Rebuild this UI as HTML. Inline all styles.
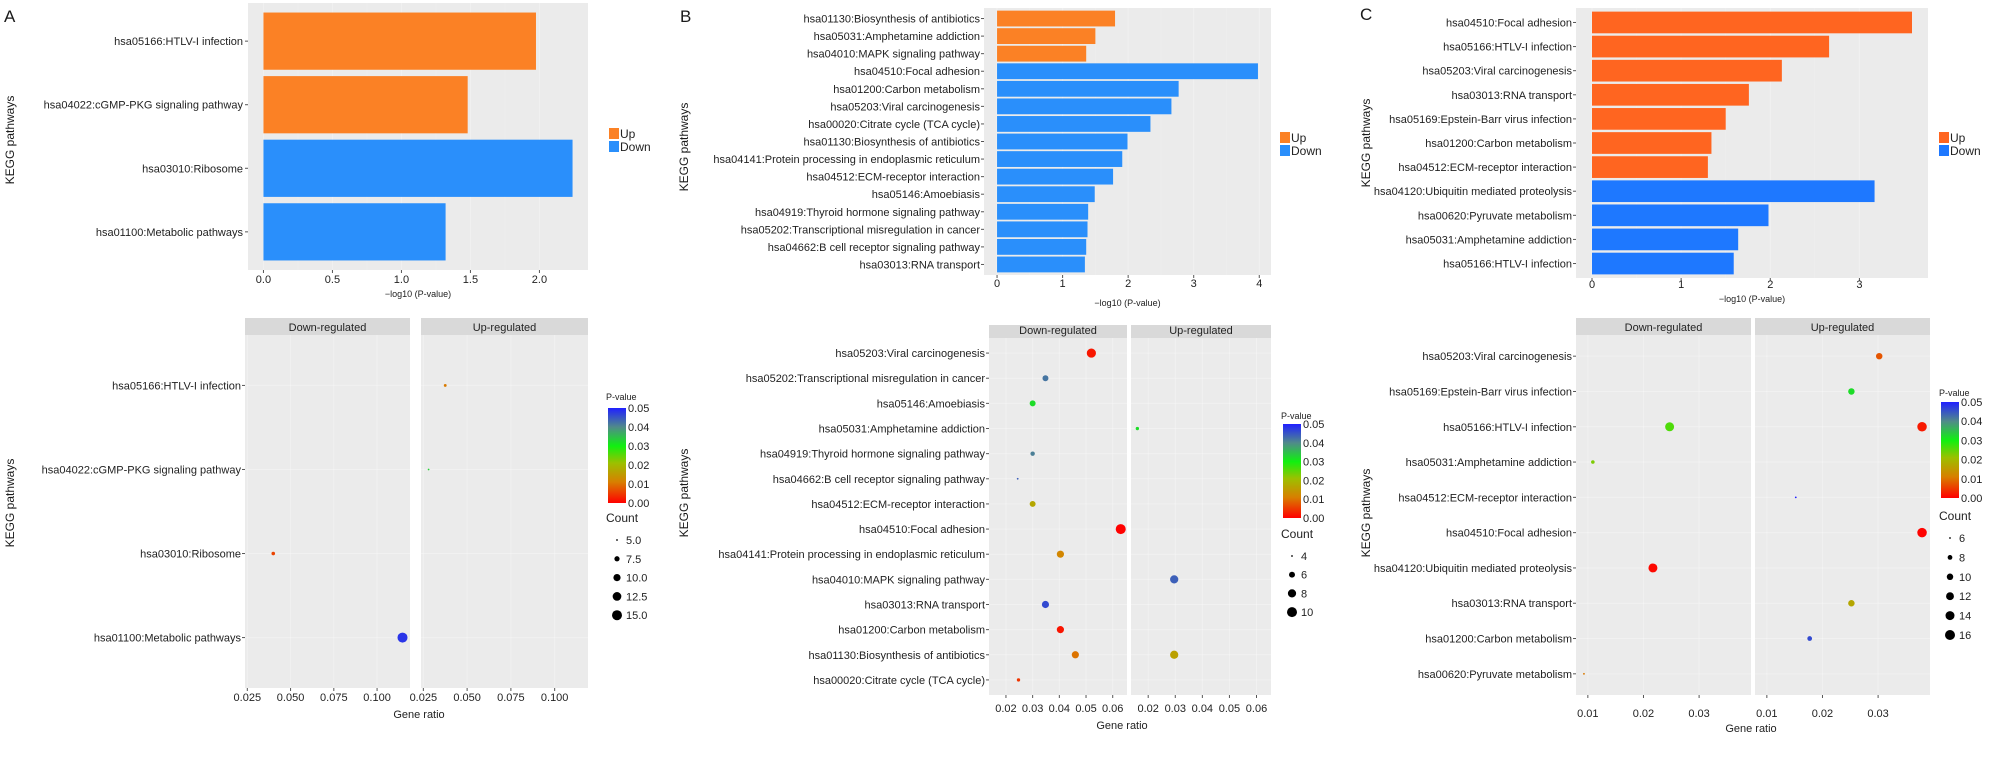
<!DOCTYPE html>
<html><head><meta charset="utf-8"><title>KEGG enrichment</title>
<style>
html,body{margin:0;padding:0;background:#fff;}
svg{display:block;font-family:"Liberation Sans",Arial,sans-serif;}
</style></head>
<body>
<svg id="fig" width="2008" height="764" viewBox="0 0 2008 764" xmlns="http://www.w3.org/2000/svg">
<defs>
<linearGradient id="pgrad" x1="0" y1="1" x2="0" y2="0">
<stop offset="0" stop-color="#ff0000"/><stop offset="0.22" stop-color="#d87f00"/><stop offset="0.42" stop-color="#9cc000"/><stop offset="0.6" stop-color="#10f010"/><stop offset="0.8" stop-color="#508a8a"/><stop offset="1" stop-color="#2020ff"/>
</linearGradient>
</defs>
</svg>
<script>
// ---------- Panel A data ----------
const aBarLabels=['hsa05166:HTLV-I infection','hsa04022:cGMP-PKG signaling pathway','hsa03010:Ribosome','hsa01100:Metabolic pathways'];
const aBarValues=[1.975,1.48,2.24,1.32];
const aBarGroups=['Up','Up','Down','Down'];
const aBarTicks=[0,0.5,1,1.5,2];
const aBarTickLabels=['0.0','0.5','1.0','1.5','2.0'];
const aDotRows=['hsa05166:HTLV-I infection','hsa04022:cGMP-PKG signaling pathway','hsa03010:Ribosome','hsa01100:Metabolic pathways'];
const aDotPath=['hsa05166:HTLV-I infection','hsa04022:cGMP-PKG signaling pathway','hsa03010:Ribosome','hsa01100:Metabolic pathways'];
const aDotFacet=['Up','Up','Down','Down'];
const aDotRatio=[0.0375,0.028,0.040,0.1147];
const aDotP=[0.0106,0.033,0.0058,0.048];
const aDotCount=[5.5,5,6,15];
const aDotTicks=[0.025,0.05,0.075,0.1];
const aDotTickLabels=['0.025','0.050','0.075','0.100'];
const aPTicks=[0,0.01,0.02,0.03,0.04,0.05];
const aCountLegend=[5,7.5,10,12.5,15];
const aCountLabels=['5.0','7.5','10.0','12.5','15.0'];

// ---------- Panel B data ----------
const bBarLabels=['hsa01130:Biosynthesis of antibiotics','hsa05031:Amphetamine addiction','hsa04010:MAPK signaling pathway','hsa04510:Focal adhesion','hsa01200:Carbon metabolism','hsa05203:Viral carcinogenesis','hsa00020:Citrate cycle (TCA cycle)','hsa01130:Biosynthesis of antibiotics','hsa04141:Protein processing in endoplasmic reticulum','hsa04512:ECM-receptor interaction','hsa05146:Amoebiasis','hsa04919:Thyroid hormone signaling pathway','hsa05202:Transcriptional misregulation in cancer','hsa04662:B cell receptor signaling pathway','hsa03013:RNA transport'];
const bBarValues=[1.80,1.50,1.36,3.98,2.77,2.66,2.34,1.99,1.91,1.77,1.49,1.39,1.38,1.36,1.34];
const bBarGroups=['Up','Up','Up','Down','Down','Down','Down','Down','Down','Down','Down','Down','Down','Down','Down'];
const bBarTicks=[0,1,2,3,4];
const bBarTickLabels=['0','1','2','3','4'];
const bDotRows=['hsa05203:Viral carcinogenesis','hsa05202:Transcriptional misregulation in cancer','hsa05146:Amoebiasis','hsa05031:Amphetamine addiction','hsa04919:Thyroid hormone signaling pathway','hsa04662:B cell receptor signaling pathway','hsa04512:ECM-receptor interaction','hsa04510:Focal adhesion','hsa04141:Protein processing in endoplasmic reticulum','hsa04010:MAPK signaling pathway','hsa03013:RNA transport','hsa01200:Carbon metabolism','hsa01130:Biosynthesis of antibiotics','hsa00020:Citrate cycle (TCA cycle)'];
const bDotPath=['hsa05203:Viral carcinogenesis','hsa05202:Transcriptional misregulation in cancer','hsa05146:Amoebiasis','hsa05031:Amphetamine addiction','hsa04919:Thyroid hormone signaling pathway','hsa04662:B cell receptor signaling pathway','hsa04512:ECM-receptor interaction','hsa04510:Focal adhesion','hsa04141:Protein processing in endoplasmic reticulum','hsa04010:MAPK signaling pathway','hsa03013:RNA transport','hsa01200:Carbon metabolism','hsa01130:Biosynthesis of antibiotics','hsa01130:Biosynthesis of antibiotics','hsa00020:Citrate cycle (TCA cycle)'];
const bDotFacet=['Down','Down','Down','Up','Down','Down','Down','Down','Down','Up','Down','Down','Down','Up','Down'];
const bDotRatio=[0.052,0.0348,0.030,0.016,0.030,0.0244,0.030,0.063,0.0404,0.0296,0.0348,0.0404,0.046,0.0296,0.0247];
const bDotP=[0.002,0.042,0.032,0.032,0.041,0.044,0.017,0.0001,0.012,0.044,0.046,0.0017,0.010,0.016,0.0046];
const bDotCount=[9,6,6,4.5,5,4,6,10,7,8,7,7,7,8,4.5];
const bDotTicks=[0.02,0.03,0.04,0.05,0.06];
const bDotTickLabels=['0.02','0.03','0.04','0.05','0.06'];
const bPTicks=[0,0.01,0.02,0.03,0.04,0.05];
const bCountLegend=[4,6,8,10];
const bCountLabels=['4','6','8','10'];

// ---------- Panel C data ----------
const cBarLabels=['hsa04510:Focal adhesion','hsa05166:HTLV-I infection','hsa05203:Viral carcinogenesis','hsa03013:RNA transport','hsa05169:Epstein-Barr virus infection','hsa01200:Carbon metabolism','hsa04512:ECM-receptor interaction','hsa04120:Ubiquitin mediated proteolysis','hsa00620:Pyruvate metabolism','hsa05031:Amphetamine addiction','hsa05166:HTLV-I infection'];
const cBarValues=[3.59,2.66,2.13,1.76,1.50,1.34,1.30,3.17,1.98,1.64,1.59];
const cBarGroups=['Up','Up','Up','Up','Up','Up','Up','Down','Down','Down','Down'];
const cBarTicks=[0,1,2,3];
const cBarTickLabels=['0','1','2','3'];
const cDotRows=['hsa05203:Viral carcinogenesis','hsa05169:Epstein-Barr virus infection','hsa05166:HTLV-I infection','hsa05031:Amphetamine addiction','hsa04512:ECM-receptor interaction','hsa04510:Focal adhesion','hsa04120:Ubiquitin mediated proteolysis','hsa03013:RNA transport','hsa01200:Carbon metabolism','hsa00620:Pyruvate metabolism'];
const cDotPath=['hsa05203:Viral carcinogenesis','hsa05169:Epstein-Barr virus infection','hsa05166:HTLV-I infection','hsa05166:HTLV-I infection','hsa05031:Amphetamine addiction','hsa04512:ECM-receptor interaction','hsa04510:Focal adhesion','hsa04120:Ubiquitin mediated proteolysis','hsa03013:RNA transport','hsa01200:Carbon metabolism','hsa00620:Pyruvate metabolism'];
const cDotFacet=['Up','Up','Down','Up','Down','Up','Up','Down','Up','Up','Down'];
const cDotRatio=[0.0302,0.0252,0.0247,0.0379,0.0109,0.0152,0.0379,0.0217,0.0252,0.0177,0.0093];
const cDotP=[0.0074,0.032,0.026,0.0022,0.023,0.05,0.0003,0.0007,0.017,0.046,0.0105];
const cDotCount=[10,10,14,15,7,6,15,14,10,8,6];
const cDotTicks=[0.01,0.02,0.03];
const cDotTickLabels=['0.01','0.02','0.03'];
const cPTicks=[0,0.01,0.02,0.03,0.04,0.05];
const cCountLegend=[6,8,10,12,14,16];
const cCountLabels=['6','8','10','12','14','16'];

// ---------- helpers ----------
const NS='http://www.w3.org/2000/svg';
const svg=document.getElementById('fig');
const GRID_OP=0.3;
function mk(tag,attrs,parent){const e=document.createElementNS(NS,tag);for(const k in attrs)e.setAttribute(k,attrs[k]);(parent||svg).appendChild(e);return e;}
function txt(s,x,y,anchor,size,parent,fill){const e=mk('text',{x:x,y:y,'text-anchor':anchor,'font-size':size,fill:fill||'#1a1a1a'},parent);e.textContent=s;return e;}
const stops=[[0,[255,0,0]],[0.22,[216,127,0]],[0.42,[156,192,0]],[0.6,[16,240,16]],[0.8,[80,138,138]],[1,[32,32,255]]];
function pColor(p){const t=Math.max(0,Math.min(1,p/0.05));for(let i=1;i<stops.length;i++){if(t<=stops[i][0]){const a=stops[i-1],b=stops[i];const f=(t-a[0])/(b[0]-a[0]);const c=a[1].map((v,k)=>Math.round(v+(b[1][k]-v)*f));return 'rgb('+c.join(',')+')';}}return 'rgb(32,32,255)';}
function rScale(c,cmin,cmax){const rmin=0.9,rmax=5;const t=Math.max(0,(c-cmin)/(cmax-cmin));return Math.sqrt(rmin*rmin+(rmax*rmax-rmin*rmin)*t);}

function panelLetter(s,x,y){const t=txt(s,x,y,'start',17);

}
function yTitle(x,y,g){const t=txt('KEGG pathways',x,y,'middle',12,g);t.setAttribute('transform','rotate(-90 '+x+' '+y+')');

}

function barPanel(id,L,labels,values,groups,ticks,tickLabels,upCol,downCol){
 const g=mk('g',{});
 
 
 const bg=mk('rect',{x:L.x0,y:L.y0,width:L.x1-L.x0,height:L.y1-L.y0,fill:'#ebebeb'},g);
 
 
 const vmax=Math.max(...values);const dmin=-0.05*vmax,dmax=1.05*vmax;
 const X=v=>L.x0+(v-dmin)/(dmax-dmin)*(L.x1-L.x0);
 const n=labels.length;const step=(L.y1-L.y0)/(n+0.2);
 const Y=i=>L.y0+step*(i+0.6);
 ticks.forEach((t,i)=>{mk('line',{x1:X(t),x2:X(t),y1:L.y0,y2:L.y1,stroke:'#fff','stroke-width':1,'stroke-opacity':GRID_OP},g);
  if(i<ticks.length-1){const m=(t+ticks[i+1])/2;mk('line',{x1:X(m),x2:X(m),y1:L.y0,y2:L.y1,stroke:'#fff','stroke-width':0.5,'stroke-opacity':0.25},g);}});
 labels.forEach((lab,i)=>{
  const b=mk('rect',{x:X(0),y:Y(i)-step*0.45,width:X(values[i])-X(0),height:step*0.9,fill:groups[i]==='Up'?upCol:downCol},g);
  
  
  const t=txt(lab,L.labelX,Y(i)+4,'end',11,g,'#222');
  
  
  mk('line',{x1:L.x0-3,x2:L.x0,y1:Y(i),y2:Y(i),stroke:'#555'},g);
 });
 ticks.forEach((t,i)=>{mk('line',{x1:X(t),x2:X(t),y1:L.y1,y2:L.y1+3,stroke:'#555'},g);
  const e=txt(tickLabels[i],X(t),L.tickY,'middle',11,g,'#222');
  
  });
 const xt=txt('\u2212log10 (P-value)',(L.x0+L.x1)/2,L.titleY,'middle',9,g,'#222');
 
 
 const lg=mk('g',{},g);
 
 
 [['Up',upCol],['Down',downCol]].forEach((d,i)=>{const r=mk('rect',{x:L.lx,y:L.ly+i*13,width:10,height:11,fill:d[1]},lg);
  
  
  const t=txt(d[0],L.lx+11,L.ly+i*13+10,'start',12,lg,'#222');
  
  });
}

function dotPanel(id,L,rows,path,facet,ratio,pv,count,ticks,tickLabels,pTicks,cLeg,cLab){
 const g=mk('g',{});
 
 
 const rmin=Math.min(...ratio),rmax=Math.max(...ratio),sp=rmax-rmin;const dmin=rmin-0.05*sp,dmax=rmax+0.05*sp;
 const cmin=Math.min(...cLeg),cmax=Math.max(...cLeg);
 const n=rows.length;const step=(L.y1-L.sy1)/(n+0.2);const Y=i=>L.sy1+step*(i+0.6);
 const facets={Down:[L.dx0,L.dx1],Up:[L.ux0,L.ux1]};
 ['Down','Up'].forEach(f=>{const [a,b]=facets[f];
  const X=v=>a+(v-dmin)/(dmax-dmin)*(b-a);
  const r=mk('rect',{x:a,y:L.sy1,width:b-a,height:L.y1-L.sy1,fill:'#ebebeb'},g);
  
  
  const s=mk('rect',{x:a,y:L.y0,width:b-a,height:L.sy1-L.y0,fill:'#d9d9d9'},g);
  
  
  const st=txt(f+'-regulated',(a+b)/2,L.sy1-4,'middle',11,g,'#222');
  
  
  rows.forEach((rw,i)=>mk('line',{x1:a,x2:b,y1:Y(i),y2:Y(i),stroke:'#fff','stroke-opacity':GRID_OP},g));
  ticks.forEach((t,i)=>{mk('line',{x1:X(t),x2:X(t),y1:L.sy1,y2:L.y1,stroke:'#fff','stroke-opacity':GRID_OP},g);
   mk('line',{x1:X(t),x2:X(t),y1:L.y1,y2:L.y1+3,stroke:'#555'},g);
   const e=txt(tickLabels[i],X(t),L.tickY,'middle',11,g,'#222');
   
   });
 });
 rows.forEach((rw,i)=>{const t=txt(rw,L.labelX,Y(i)+4,'end',11,g,'#222');
  
  
  mk('line',{x1:L.dx0-3,x2:L.dx0,y1:Y(i),y2:Y(i),stroke:'#555'},g);});
 path.forEach((pw,k)=>{const [a,b]=facets[facet[k]];const X=v=>a+(v-dmin)/(dmax-dmin)*(b-a);
  const c=mk('circle',{cx:X(ratio[k]),cy:Y(rows.indexOf(pw)),r:rScale(count[k],cmin,cmax),fill:pColor(pv[k])},g);
  
  });
 const xt=txt('Gene ratio',L.gx,L.titleY,'middle',11,g,'#222');
 
 
 const lg=mk('g',{},g);
 
 
 const pt=txt('P-value',L.lx,L.pty,'start',9,lg,'#222');
 
 
 const cb=mk('rect',{x:L.lx+2,y:L.cb0,width:18,height:L.cb1-L.cb0,fill:'url(#pgrad)'},lg);
 
 
 pTicks.forEach(p=>{const y=L.cb1-(p/0.05)*(L.cb1-L.cb0);const e=txt(p.toFixed(2),L.lx+22,y+4,'start',11,lg,'#222');
  
  });
 const cg=mk('g',{},g);
 
 
 const ct=txt('Count',L.lx,L.cty,'start',12,cg,'#222');
 
 
 cLeg.forEach((c,i)=>{const y=L.cty+18+i*L.cstep;const d=mk('circle',{cx:L.lx+11,cy:y,r:rScale(c,cmin,cmax),fill:'#000'},cg);
  
  
  const e=txt(cLab[i],L.lx+20,y+4,'start',11,cg,'#222');
  
  });
}

// ---------- render ----------
panelLetter('A',4,22);panelLetter('B',680,22);panelLetter('C',1360,20);
yTitle(14,140);yTitle(14,503);yTitle(688,147);yTitle(688,493);yTitle(1370,143);yTitle(1370,513);

barPanel('panel-a',{x0:248,x1:588,y0:3,y1:270,labelX:243,tickY:283,titleY:297,lx:609,ly:128},aBarLabels,aBarValues,aBarGroups,aBarTicks,aBarTickLabels,'#fb8125','#2a8ffb');
barPanel('panel-b',{x0:984,x1:1271,y0:8,y1:275,labelX:980,tickY:287,titleY:306,lx:1280,ly:132},bBarLabels,bBarValues,bBarGroups,bBarTicks,bBarTickLabels,'#fb8125','#2a8ffb');
barPanel('panel-c',{x0:1576,x1:1928,y0:8,y1:278,labelX:1572,tickY:288,titleY:302,lx:1939,ly:132},cBarLabels,cBarValues,cBarGroups,cBarTicks,cBarTickLabels,'#ff6520','#1e78ff');

dotPanel('panel-a',{dx0:245,dx1:410,ux0:421,ux1:588,y0:318,sy1:335,y1:688,labelX:241,tickY:701,titleY:718,gx:419,lx:606,pty:400,cb0:408,cb1:503,cty:522,cstep:18.8},aDotRows,aDotPath,aDotFacet,aDotRatio,aDotP,aDotCount,aDotTicks,aDotTickLabels,aPTicks,aCountLegend,aCountLabels);
dotPanel('panel-b',{dx0:989,dx1:1127,ux0:1131,ux1:1271,y0:325,sy1:338,y1:695,labelX:985,tickY:712,titleY:729,gx:1122,lx:1281,pty:419,cb0:424,cb1:518,cty:538,cstep:18.7},bDotRows,bDotPath,bDotFacet,bDotRatio,bDotP,bDotCount,bDotTicks,bDotTickLabels,bPTicks,bCountLegend,bCountLabels);
dotPanel('panel-c',{dx0:1576,dx1:1751,ux0:1755,ux1:1930,y0:318,sy1:335,y1:695,labelX:1572,tickY:717,titleY:732,gx:1751,lx:1939,pty:396,cb0:402,cb1:498,cty:520,cstep:19.4},cDotRows,cDotPath,cDotFacet,cDotRatio,cDotP,cDotCount,cDotTicks,cDotTickLabels,cPTicks,cCountLegend,cCountLabels);
</script>
</body></html>
